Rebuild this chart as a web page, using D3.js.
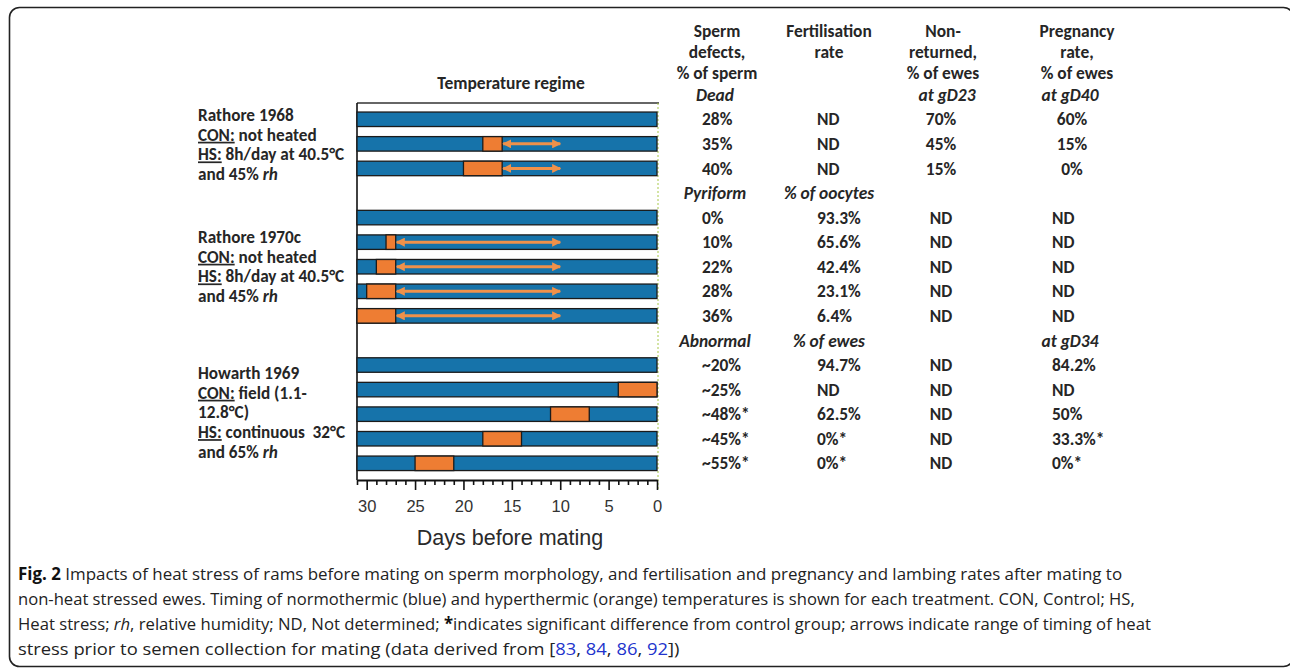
<!DOCTYPE html>
<html><head><meta charset="utf-8">
<script src="https://cdn.jsdelivr.net/npm/d3@7"></script>
<style>body{margin:0;background:#fff}svg{display:block}</style>
</head><body>
<svg id="c" width="1290" height="670"></svg>
<script>
// ---------------- data ----------------
const rowSlots   = [0,1,2, 4,5,6,7,8, 10,11,12,13,14];
const heatFrom   = [null,18,20, null,28,29,30,31, null,4,11,18,25];
const heatTo     = [null,16,16, null,27,27,27,27, null,0,7,14,21];
const arrowFrom  = [null,16,16, null,27,27,27,27, null,null,null,null,null];
const arrowTo    = [null,10,10, null,10,10,10,10, null,null,null,null,null];

const spermDefects  = ["28%","35%","40%","0%","10%","22%","28%","36%","~20%","~25%","~48%*","~45%*","~55%*"];
const fertilisation = ["ND","ND","ND","93.3%","65.6%","42.4%","23.1%","6.4%","94.7%","ND","62.5%","0%*","0%*"];
const nonReturned   = ["70%","45%","15%","ND","ND","ND","ND","ND","ND","ND","ND","ND","ND"];
const pregnancy     = ["60%","15%","0%","ND","ND","ND","ND","ND","84.2%","ND","50%","33.3%*","0%*"];

const columnHeaders = [["Sperm","defects,","% of sperm"],["Fertilisation","rate"],["Non-","returned,","% of ewes"],["Pregnancy","rate,","% of ewes"]];
const subHeaderSlots = [-1, 3, 9];
const subHeaders = [["Dead","","at gD23","at gD40"],["Pyriform","% of oocytes","",""],["Abnormal","% of ewes","","at gD34"]];

const studyLabels = [
  [[["Rathore 1968"]],[["CON:","u"],[" not heated"]],[["HS:","u"],[" 8h/day at 40.5°C"]],[["and 45% "],["rh","i"]]],
  [[["Rathore 1970c"]],[["CON:","u"],[" not heated"]],[["HS:","u"],[" 8h/day at 40.5°C"]],[["and 45% "],["rh","i"]]],
  [[["Howarth 1969"]],[["CON:","u"],[" field (1.1-"]],[["12.8°C)"]],[["HS:","u"],[" continuous  32°C"]],[["and 65% "],["rh","i"]]]
];

const xTickValues = d3.range(0, 32);
const xMajorTicks = [0,5,10,15,20,25,30];
const xDomain = [31, 0];
const chartTitle = "Temperature regime";
const xAxisTitle = "Days before mating";

const captionLines = [
  [["Fig. 2","b"],[" Impacts of heat stress of rams before mating on sperm morphology, and fertilisation and pregnancy and lambing rates after mating to"]],
  [["non-heat stressed ewes. Timing of normothermic (blue) and hyperthermic (orange) temperatures is shown for each treatment. CON, Control; HS,"]],
  [["Heat stress; "],["rh","i"],[", relative humidity; ND, Not determined; "],["*","b"],["indicates significant difference from control group; arrows indicate range of timing of heat"]],
  [["stress prior to semen collection for mating (data derived from ["],["83","l"],[", "],["84","l"],[", "],["86","l"],[", "],["92","l"],["])"]]
];

// ---------------- layout ----------------
const svg = d3.select("#c");
const BLUE = "#1673aa", ORANGE = "#ee7d33", ARROW = "#f0914a", TXT = "#262626";
const labelFont = "Carlito, Lato, 'Open Sans', sans-serif";

// outer frame
svg.append("rect").attr("x",9.5).attr("y",7.5).attr("width",1284).attr("height",659)
  .attr("rx",10).attr("fill","none").attr("stroke","#222").attr("stroke-width",1.6);

const x = d3.scaleLinear().domain(xDomain).range([357, 657]);
const y = d3.scaleBand().domain(d3.range(15)).range([107, 475.6]).paddingInner(0.41).paddingOuter(0.205);
const slotCenter = s => y.range()[0] + y.step()*(s + 0.5);

const plotTop = 103, axisY = 480;

// frame lines
svg.append("line").attr("x1",x(xDomain[0])).attr("x2",x(xDomain[1])+2).attr("y1",plotTop).attr("y2",plotTop)
  .attr("stroke","#333").attr("stroke-width",1.6);
svg.append("line").attr("x1",x(xDomain[0])).attr("x2",x(xDomain[0])).attr("y1",plotTop).attr("y2",axisY)
  .attr("stroke","#111").attr("stroke-width",1.6);
svg.append("line").attr("x1",x(0)+1).attr("x2",x(0)+1).attr("y1",plotTop).attr("y2",axisY+10)
  .attr("stroke","#a8c94a").attr("stroke-width",1).attr("stroke-dasharray","2,2");

// title
svg.append("text").attr("x",511).attr("y",83).attr("dy","0.35em").attr("text-anchor","middle")
  .attr("font-family",labelFont).attr("font-weight","bold").attr("font-size",17.5).attr("fill",TXT).text(chartTitle);

// bars
const rows = rowSlots.map((s,i)=>({s, hf:heatFrom[i], ht:heatTo[i], af:arrowFrom[i], at:arrowTo[i]}));
const g = svg.append("g");
g.selectAll("rect.blue").data(rows).join("rect").attr("class","blue")
  .attr("x",x(xDomain[0])).attr("width",x(xDomain[1])-x(xDomain[0]))
  .attr("y",d=>y(d.s)).attr("height",y.bandwidth())
  .attr("fill",BLUE).attr("stroke","#1b1b1b").attr("stroke-width",1.3);
g.selectAll("rect.heat").data(rows.filter(d=>d.hf!==null)).join("rect").attr("class","heat")
  .attr("x",d=>x(d.hf)).attr("width",d=>x(d.ht)-x(d.hf))
  .attr("y",d=>y(d.s)).attr("height",y.bandwidth())
  .attr("fill",ORANGE).attr("stroke","#1b1b1b").attr("stroke-width",1.3);

// arrows
const defs = svg.append("defs");
defs.append("marker").attr("id","ah").attr("viewBox","0 0 10 10").attr("refX",9).attr("refY",5)
  .attr("markerWidth",9).attr("markerHeight",9).attr("markerUnits","userSpaceOnUse")
  .attr("orient","auto-start-reverse")
  .append("path").attr("d","M0,0 L10,5 L0,10 Z").attr("fill",ARROW);
g.selectAll("line.arr").data(rows.filter(d=>d.af!==null)).join("line").attr("class","arr")
  .attr("x1",d=>x(d.af)+1).attr("x2",d=>x(d.at))
  .attr("y1",d=>y(d.s)+y.bandwidth()/2).attr("y2",d=>y(d.s)+y.bandwidth()/2)
  .attr("stroke",ARROW).attr("stroke-width",3)
  .attr("marker-start","url(#ah)").attr("marker-end","url(#ah)");

// axis
const axis = d3.axisBottom(x).tickValues(xTickValues)
  .tickFormat(d=>xMajorTicks.includes(d)?d:"").tickSizeInner(10).tickSizeOuter(0).tickPadding(10);
const ag = svg.append("g").attr("transform",`translate(0,${axisY})`).call(axis);
ag.select(".domain").attr("stroke","#111").attr("stroke-width",2.2);
ag.selectAll(".tick line").attr("stroke","#111").attr("stroke-width",1.6)
  .attr("y2",d=>xMajorTicks.includes(d)?10:5);
ag.selectAll(".tick text").attr("font-family","'Liberation Sans', Arial, sans-serif")
  .attr("font-size",16.5).attr("fill","#333");
svg.append("text").attr("x",510).attr("y",545).attr("text-anchor","middle")
  .attr("font-family","'Liberation Sans', Arial, sans-serif").attr("font-size",21.5).attr("fill","#2a2a2a").text(xAxisTitle);

// study labels
const labelStartY = [115, 237, 373];
const labelStep = 19.7;
studyLabels.forEach((lines,gi)=>{
  lines.forEach((segs,li)=>{
    const t = svg.append("text").attr("x",198).attr("y",labelStartY[gi]+li*labelStep).attr("dy","0.35em")
      .attr("font-family",labelFont).attr("font-weight","bold").attr("font-size",17.2).attr("fill",TXT)
      .attr("xml:space","preserve").style("white-space","pre");
    segs.forEach(([txt,st])=>{
      const ts = t.append("tspan").text(txt);
      if(st==="u") ts.attr("text-decoration","underline");
      if(st==="i") ts.attr("font-style","italic");
    });
  });
});

// table
const tfs = 17.4;
const headerY = [31, 52, 73];
const headerX = [717, 829, 943, 1077];
columnHeaders.forEach((lines,ci)=>{
  lines.forEach((ln,li)=>{
    svg.append("text").attr("x",headerX[ci]).attr("y",headerY[li]).attr("dy","0.35em").attr("text-anchor","middle")
      .attr("font-family",labelFont).attr("font-weight","bold").attr("font-size",tfs).attr("fill",TXT).text(ln);
  });
});
const subX = [715, 829, 947, 1070];
subHeaders.forEach((row,ri)=>{
  row.forEach((txt,ci)=>{
    if(!txt) return;
    svg.append("text").attr("x",subX[ci]).attr("y",slotCenter(subHeaderSlots[ri])).attr("dy","0.35em").attr("text-anchor","middle")
      .attr("font-family",labelFont).attr("font-weight","bold").attr("font-style","italic").attr("font-size",tfs).attr("fill",TXT).text(txt);
  });
});
const cols = [
  {vals:spermDefects, x:()=>702, a:()=>"start"},
  {vals:fertilisation, x:()=>817, a:()=>"start"},
  {vals:nonReturned, x:()=>941, a:()=>"middle"},
  {vals:pregnancy, x:(i)=>i<3?1072:1052, a:(i)=>i<3?"middle":"start"}
];
cols.forEach(c=>{
  svg.append("g").selectAll("text").data(c.vals).join("text")
    .attr("x",(d,i)=>c.x(i)).attr("text-anchor",(d,i)=>c.a(i))
    .attr("y",(d,i)=>slotCenter(rowSlots[i])).attr("dy","0.35em")
    .attr("font-family",labelFont).attr("font-weight","bold").attr("font-size",tfs).attr("fill",TXT).text(d=>d);
});

// caption
const capY = [580, 605, 630, 655];
const capW = [1105, 1117, 1134, 662];
captionLines.forEach((segs,li)=>{
  const t = svg.append("text").attr("x",0).attr("y",0)
    .attr("font-family","'Open Sans', 'Noto Sans', sans-serif").attr("font-size",17).attr("fill","#222")
    .attr("xml:space","preserve").style("white-space","pre");
  segs.forEach(([txt,st])=>{
    const ts = t.append("tspan").text(txt);
    if(st==="b") ts.attr("font-weight","bold").attr("fill","#111");
    if(st==="i") ts.attr("font-style","italic");
    if(st==="l") ts.attr("fill","#2233cc");
  });
  const w = t.node().getComputedTextLength();
  t.attr("transform",`translate(18,${capY[li]}) scale(${capW[li]/w},1)`);
});
</script>
</body></html>
